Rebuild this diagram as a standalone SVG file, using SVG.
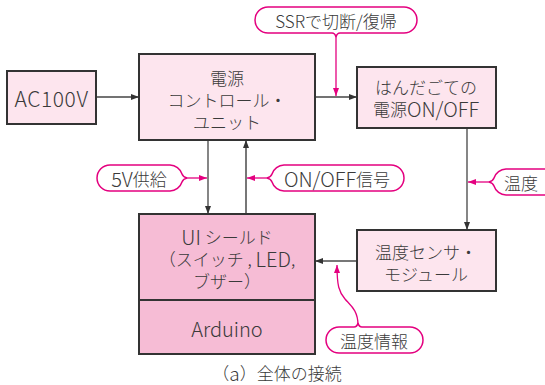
<svg xmlns="http://www.w3.org/2000/svg" width="545" height="385" viewBox="0 0 545 385">
<defs>
<marker id="ah" markerWidth="8" markerHeight="6" refX="8" refY="3" orient="auto" markerUnits="userSpaceOnUse">
<path d="M0,0 L8,3 L0,6 Z" fill="#333"/>
</marker>
<marker id="ap" markerWidth="8" markerHeight="6" refX="8" refY="3" orient="auto" markerUnits="userSpaceOnUse">
<path d="M0,0 L8,3 L0,6 Z" fill="#e4007f"/>
</marker>
</defs>
<style>
.box{fill:#fde5ee;stroke:#333;stroke-width:2}
.ui{fill:#f6bcd5;stroke:#333;stroke-width:2}
.t{font-family:"Noto Sans CJK JP","Noto Sans",sans-serif;font-size:17px;font-weight:300;fill:#3a3a3a;text-anchor:middle;dominant-baseline:central}
.l{font-size:20px}
.pill{fill:#fff;stroke:#e4007f;stroke-width:1.5}
.c{fill:none;stroke:#444;stroke-width:1.3}
.cg{fill:none;stroke:#777;stroke-width:2}
.p{fill:none;stroke:#e4007f;stroke-width:1.3}
</style>
<rect width="545" height="385" fill="#fff"/>
<g id="connectors">
<line class="c" x1="96" y1="97" x2="139" y2="97" marker-end="url(#ah)"/>
<line class="c" x1="315" y1="97" x2="357" y2="97" marker-end="url(#ah)"/>
<line class="c" x1="208" y1="140" x2="208" y2="214" marker-end="url(#ah)"/>
<line class="cg" x1="246" y1="214" x2="246" y2="140" marker-end="url(#ah)"/>
<line class="c" x1="467" y1="128" x2="467" y2="230" marker-end="url(#ah)"/>
<line class="cg" x1="357" y1="261" x2="315" y2="261" marker-end="url(#ah)"/>
<line class="p" x1="336" y1="37" x2="336" y2="96" marker-end="url(#ap)"/>
<line class="p" x1="187" y1="178" x2="207" y2="178" marker-end="url(#ap)"/>
<line class="p" x1="267" y1="178" x2="247" y2="178" marker-end="url(#ap)"/>
<line class="p" x1="489" y1="182" x2="468" y2="182" marker-end="url(#ap)"/>
<path class="p" d="M358,325 C358,310 350,305 345,299 C339,292 337,286 337,265" marker-end="url(#ap)"/>
</g>
<g id="ac100v">
<rect class="box" x="7" y="71" width="89" height="53"/>
<text class="t" x="51.5" y="97.5" style="font-size:21px;letter-spacing:0.6px">AC100V</text>
</g>
<g id="control">
<rect class="box" x="139" y="54" width="176" height="86"/>
<text class="t" x="227" y="77">電源</text>
<text class="t" x="227" y="99">コントロール・</text>
<text class="t" x="227" y="121">ユニット</text>
</g>
<g id="handa">
<rect class="box" x="357" y="67" width="139" height="61"/>
<text class="t" x="426" y="86">はんだごての</text>
<text class="t" x="426" y="108">電源<tspan class="l">ON/OFF</tspan></text>
</g>
<g id="ui">
<rect class="ui" x="139" y="214" width="176" height="140"/>
<line x1="139" y1="300" x2="315" y2="300" stroke="#333" stroke-width="2"/>
<text class="t" x="227" y="236"><tspan class="l">UI</tspan> シールド</text>
<text class="t" x="227" y="258">（スイッチ , <tspan class="l">LED</tspan>,</text>
<text class="t" x="227" y="280">ブザー）</text>
<text class="t l" x="227" y="328">Arduino</text>
</g>
<g id="sensor">
<rect class="box" x="357" y="230" width="139" height="61"/>
<text class="t" x="426" y="251">温度センサ・</text>
<text class="t" x="426" y="273">モジュール</text>
</g>
<g id="label-ssr">
<path class="pill" d="M268,7 H404 A13,13 0 0 1 404,33 H340 Q337,33 336,37 Q335,33 332,33 H268 A13,13 0 0 1 268,7 Z"/>
<text class="t" x="336" y="20">SSRで切断/復帰</text>
</g>
<g id="label-5v">
<path class="pill" d="M110,165 H170 A13,13 0 0 1 182,174 Q183,177 187,178 Q183,179 182,182 A13,13 0 0 1 170,191 H110 A13,13 0 0 1 110,165 Z"/>
<text class="t" x="139" y="178"><tspan class="l">5V</tspan>供給</text>
</g>
<g id="label-onoff">
<path class="pill" d="M284,165 H391 A13,13 0 0 1 391,191 H284 A13,13 0 0 1 272,182 Q271,179 267,178 Q271,177 272,174 A13,13 0 0 1 284,165 Z"/>
<text class="t" x="337" y="178"><tspan class="l">ON/OFF</tspan>信号</text>
</g>
<g id="label-temp">
<path class="pill" d="M506,169 H560 V195 H506 A13,13 0 0 1 494,186 Q493,183 489,182 Q493,181 494,178 A13,13 0 0 1 506,169 Z"/>
<text class="t" x="521" y="182">温度</text>
</g>
<g id="label-tempinfo">
<path class="pill" d="M339,327 H354 Q357,327 358,323 Q359,327 362,327 H410 A13,13 0 0 1 410,353 H339 A13,13 0 0 1 339,327 Z"/>
<text class="t" x="374" y="340">温度情報</text>
</g>
<text class="t" x="277" y="372">（<tspan style="font-size:19px">a</tspan>）全体の接続</text>
</svg>
